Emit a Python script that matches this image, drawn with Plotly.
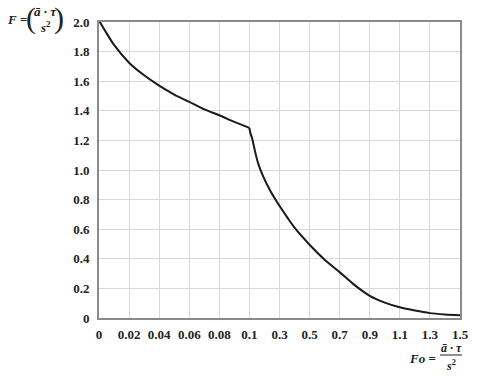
import plotly.graph_objects as go

fo = [0, 0.005, 0.01, 0.02, 0.03, 0.04, 0.05, 0.06, 0.07, 0.08, 0.09, 0.1,
      0.105, 0.118, 0.136, 0.158, 0.192, 0.236, 0.292, 0.348, 0.4, 0.5,
      0.6, 0.7, 0.8, 0.9, 1.0, 1.1, 1.2, 1.3, 1.4, 1.5]
f = [2.01, 1.925, 1.845, 1.725, 1.64, 1.57, 1.51, 1.46, 1.41, 1.37, 1.325, 1.285,
     1.255, 1.215, 1.132, 1.045, 0.955, 0.865, 0.77, 0.685, 0.61, 0.495,
     0.394, 0.31, 0.222, 0.15, 0.104, 0.072, 0.05, 0.033, 0.024, 0.018]

x_tick_labels = ['0', '0.02', '0.04', '0.06', '0.08', '0.1',
                 '0.3', '0.5', '0.7', '0.9', '1.1', '1.3', '1.5']
y_tick_values = [0, 0.2, 0.4, 0.6, 0.8, 1.0, 1.2, 1.4, 1.6, 1.8, 2.0]
y_tick_labels = ['0', '0.2', '0.4', '0.6', '0.8', '1.0',
                 '1.2', '1.4', '1.6', '1.8', '2.0']


def fo_to_pos(v):
    # the printed axis is split: 0..0.1 in 0.02 steps, then 0.1..1.5 in 0.2 steps
    if v <= 0.1:
        return v / 0.02
    return 5 + (v - 0.1) / 0.2


W, H = 480, 376
L, R, T, B = 99, 20, 22, 58


def paper(px, py):
    return (px - L) / (W - L - R), (H - B - py) / (H - T - B)


serif = 'Liberation Serif, Times New Roman, serif'

fig = go.Figure()
# two pieces so the spline keeps the sharp corner at Fo = 0.1
brk = fo.index(0.1)
for part in (slice(0, brk + 1), slice(brk, None)):
    fig.add_trace(
        go.Scatter(
            x=[fo_to_pos(v) for v in fo[part]],
            y=f[part],
            mode='lines',
            line=dict(color='#1a1a1a', width=2, shape='spline', smoothing=0.8),
            showlegend=False))

fig.update_layout(
    width=W,
    height=H,
    margin=dict(l=L, r=R, t=T, b=B),
    plot_bgcolor='white',
    paper_bgcolor='white',
    font=dict(family=serif, size=13, color='#222'))

fig.update_xaxes(
    range=[0, 12],
    tickvals=[fo_to_pos(float(t)) for t in x_tick_labels],
    ticktext=[f'<b>{t}</b>' for t in x_tick_labels],
    showgrid=True,
    gridcolor='#d9d9d9',
    gridwidth=1,
    showline=True,
    linecolor='#8a8a8a',
    linewidth=2,
    mirror=True,
    ticks='',
    ticklabelstandoff=3,
    zeroline=False)

fig.update_yaxes(
    range=[0, 2.0],
    tickvals=y_tick_values,
    ticktext=[f'<b>{t}</b>' for t in y_tick_labels],
    showgrid=True,
    gridcolor='#d9d9d9',
    gridwidth=1,
    showline=True,
    linecolor='#8a8a8a',
    linewidth=2,
    mirror=True,
    ticks='',
    ticklabelstandoff=5,
    zeroline=False)


def note(px, py, text, size=13, xanchor='center'):
    x, y = paper(px, py)
    fig.add_annotation(
        x=x, y=y, xref='paper', yref='paper', text=text, showarrow=False,
        xanchor=xanchor, yanchor='middle',
        font=dict(family=serif, size=size, color='#222'))


# F = (ā·τ / s²) in the top left corner
note(17, 19, '<b><i>F</i> =</b>')
note(31, 18, '(', size=30)
note(45, 11, '<b><i>ā · τ</i></b>', size=13)
note(45, 27, '<b><i>s</i><sup>2</sup></b>', size=13)
note(59, 18, ')', size=30)

# Fo = ā·τ / s² under the x axis on the right
note(438, 358, '<b><i>Fo</i> =</b>', xanchor='right')
note(451, 348, '<b><i>ā · τ</i></b>', size=12)
note(451, 365, '<b><i>s</i><sup>2</sup></b>', size=12)
x0, y0 = paper(440, 355)
x1, _ = paper(462, 355)
fig.add_shape(type='line', xref='paper', yref='paper', x0=x0, x1=x1, y0=y0, y1=y0,
              line=dict(color='#222', width=1))

fig.write_html('out.html', config={'displayModeBar': False},
               post_script="document.body.style.margin='0';")
